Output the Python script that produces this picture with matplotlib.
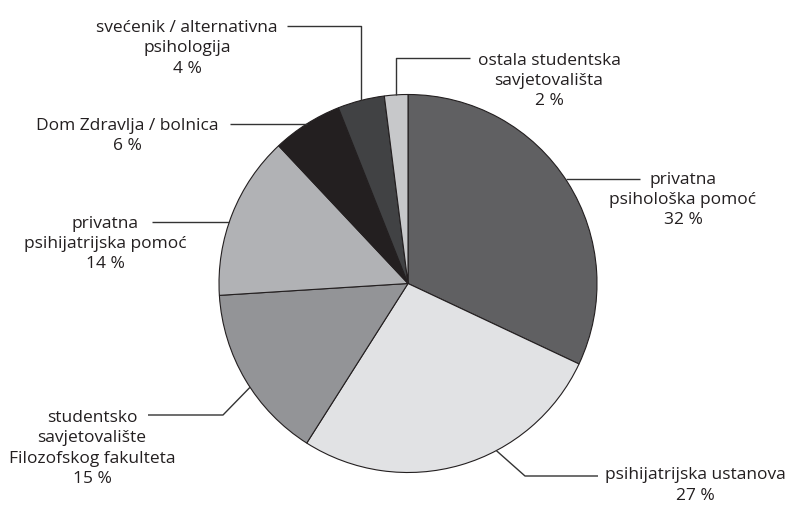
import numpy as np
import matplotlib
matplotlib.use("Agg")
import matplotlib.pyplot as plt

plt.rcParams['font.family'] = ['Open Sans', 'DejaVu Sans']

# data
labels = ["privatna\npsihološka pomoć",
          "psihijatrijska ustanova",
          "studentsko\nsavjetovalište\nFilozofskog fakulteta",
          "privatna\npsihijatrijska pomoć",
          "Dom Zdravlja / bolnica",
          "svećenik / alternativna\npsihologija",
          "ostala studentska\nsavjetovališta"]
values = [32, 27, 15, 14, 6, 4, 2]
colors = ['#606062', '#e1e2e4', '#939497', '#b1b2b5', '#231f20', '#414244', '#c7c8ca']

W, H = 790, 505
cx, cy, r = 408, H - 283.5, 189

fig = plt.figure(figsize=(W / 100, H / 100), dpi=100)
ax = fig.add_axes([0, 0, 1, 1])

wedges, _ = ax.pie(values, colors=colors, startangle=90, counterclock=False,
                   center=(cx, cy), radius=r, frame=True,
                   wedgeprops=dict(edgecolor='#231f20', linewidth=0.8))
ax.set_xlim(0, W)
ax.set_ylim(0, H)
ax.set_aspect('equal')
ax.axis('off')

# leader layout: fraction along wedge, kind, knee, line end x, text centre
# (pixel coordinates, y measured from top)
layout = [
    (0.49, 'h', None, 640, (683, 200)),
    (0.38, 'd', (525, 476), 598, (695, 485.5)),
    (0.45, 'd', (223, 415), 148, (92, 448.5)),
    (0.45, 'h', None, 152, (105, 244)),
    (0.50, 'h', None, 230, (127, 136)),
    (0.50, 'v', 26, 287, (187, 48.5)),
    (0.50, 'v', 58, 470, (549, 81)),
]

for w, lab, val, (frac, kind, knee, xend, (tx, ty)) in zip(wedges, labels, values, layout):
    ang = np.deg2rad(w.theta2 - frac * (w.theta2 - w.theta1))
    ax0 = cx + r * np.cos(ang)
    ay0 = cy + r * np.sin(ang)
    if kind == 'h':
        xs = [ax0, xend]
        ys = [ay0, ay0]
    elif kind == 'v':
        xs = [ax0, ax0, xend]
        ys = [ay0, H - knee, H - knee]
    else:
        xs = [ax0, knee[0], xend]
        ys = [ay0, H - knee[1], H - knee[1]]
    ax.plot(xs, ys, color='#333333', linewidth=1.0, solid_capstyle='butt')
    ax.text(tx, H - ty, lab + "\n" + str(val) + " %", ha='center', va='center',
            fontsize=12.5, color='#231f20', linespacing=1.35)

fig.savefig('out.png', dpi=100)
